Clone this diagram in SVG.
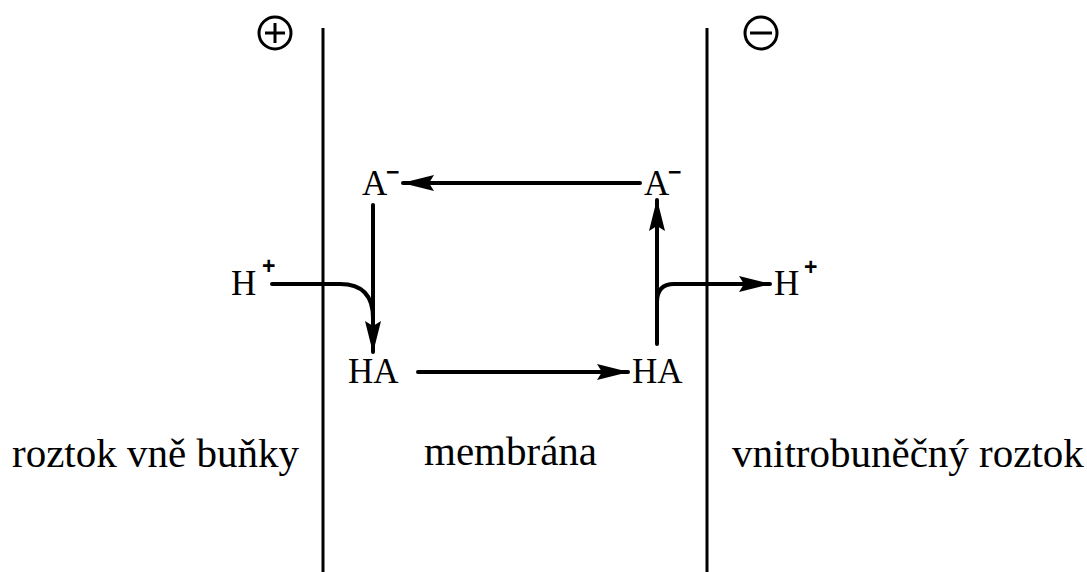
<svg xmlns="http://www.w3.org/2000/svg" width="1087" height="572" viewBox="0 0 1087 572">
  <style>
    .lbl { font-family: "Liberation Serif", "Times New Roman", serif; fill: #000; }
    .chem { font-size: 35px; }
    .side { font-size: 41px; }
    .sup { font-family: "Liberation Sans", Arial, sans-serif; font-weight: bold; font-size: 23px; fill: #000; }
    .wall { stroke: #000; stroke-width: 3; fill: none; }
    .flow { stroke: #000; stroke-width: 4; fill: none; stroke-linecap: round; }
    .sign { stroke: #000; stroke-width: 3; fill: none; }
  </style>
  <defs>
    <marker id="head" markerUnits="userSpaceOnUse" viewBox="0 0 32 16" markerWidth="32" markerHeight="16" refX="31" refY="8" orient="auto">
      <path d="M0,0 L32,8 L0,16 L5,8 Z" fill="#000"/>
    </marker>
  </defs>

  <rect width="1087" height="572" fill="#fff"/>

  <!-- membrane walls -->
  <g id="walls">
    <line class="wall" x1="323" y1="28" x2="323" y2="572"/>
    <line class="wall" x1="707" y1="28" x2="707" y2="572"/>
  </g>

  <!-- polarity signs -->
  <g id="plus-sign">
    <circle class="sign" cx="275" cy="33" r="16"/>
    <line class="sign" x1="265" y1="33" x2="285" y2="33"/>
    <line class="sign" x1="275" y1="23" x2="275" y2="43"/>
  </g>
  <g id="minus-sign">
    <circle class="sign" cx="761" cy="33" r="16"/>
    <line class="sign" x1="750" y1="33" x2="772" y2="33" stroke-width="4"/>
  </g>

  <!-- species -->
  <g id="anion-left">
    <text class="lbl chem" x="362" y="195">A</text>
    <text class="sup" x="386" y="180">−</text>
  </g>
  <g id="anion-right">
    <text class="lbl chem" x="644" y="195">A</text>
    <text class="sup" x="668" y="180">−</text>
  </g>
  <g id="acid-left">
    <text class="lbl chem" x="348" y="383">HA</text>
  </g>
  <g id="acid-right">
    <text class="lbl chem" x="632" y="383">HA</text>
  </g>
  <g id="proton-left">
    <text class="lbl chem" x="231" y="295">H</text>
    <text class="sup" x="262" y="274">+</text>
  </g>
  <g id="proton-right">
    <text class="lbl chem" x="774" y="295">H</text>
    <text class="sup" x="804" y="275">+</text>
  </g>

  <!-- compartment labels -->
  <g id="outside-label">
    <text class="lbl side" x="12" y="467">roztok vně buňky</text>
  </g>
  <g id="membrane-label">
    <text class="lbl side" x="424" y="465" font-size="43">membrána</text>
  </g>
  <g id="inside-label">
    <text class="lbl side" x="732" y="467">vnitrobuněčný roztok</text>
  </g>

  <!-- transport cycle -->
  <g id="connectors">
    <line class="flow" x1="640" y1="183" x2="403" y2="183" marker-end="url(#head)"/>
    <line class="flow" x1="373" y1="205" x2="373" y2="352" marker-end="url(#head)"/>
    <path class="flow" d="M272,284 H340 Q373,284 373,318"/>
    <line class="flow" x1="418" y1="372" x2="628" y2="372" marker-end="url(#head)"/>
    <line class="flow" x1="657" y1="344" x2="657" y2="200" marker-end="url(#head)"/>
    <path class="flow" d="M657,302 Q657,284 674,284 H770" marker-end="url(#head)"/>
  </g>
</svg>
